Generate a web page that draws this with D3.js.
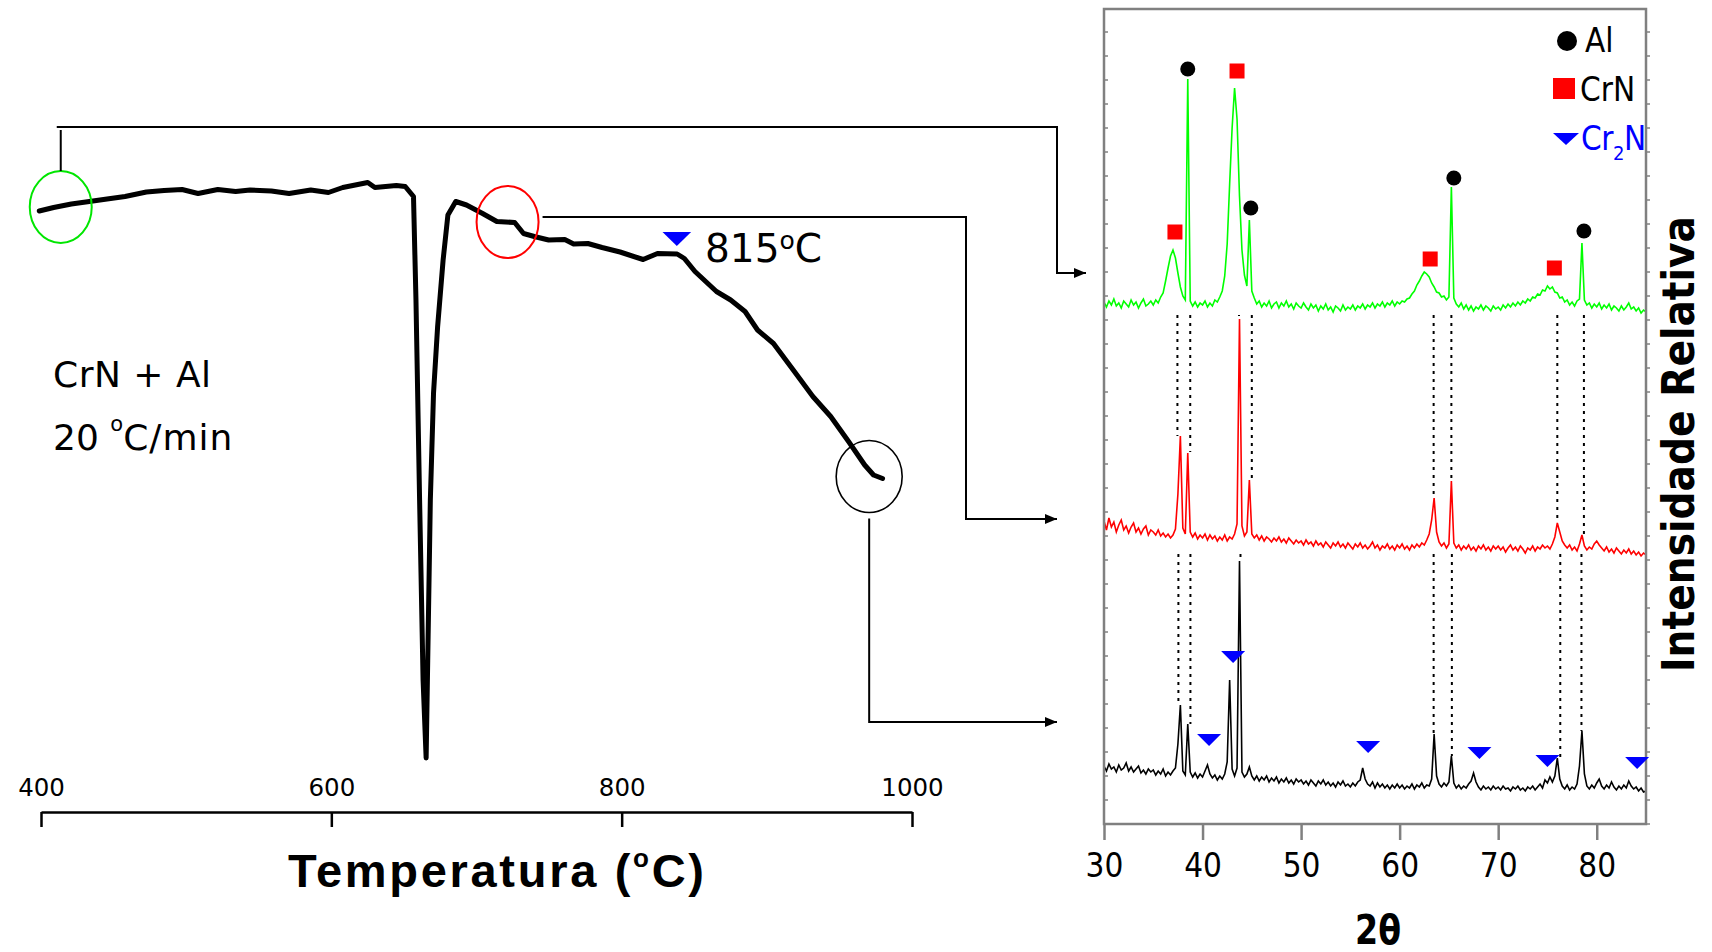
<!DOCTYPE html>
<html>
<head>
<meta charset="utf-8">
<script src="https://cdn.jsdelivr.net/npm/d3@7"></script>
<style>
  body { margin: 0; background: #fff; }
  svg { display: block; }
</style>
</head>
<body>
<div id="chart"></div>
<script>
// ---- DSC curve: temperature (oC) and signal (a.u.)
const dscTemp = [398.8, 408.7, 420.9, 433.3, 445.5, 457.9, 472.6, 484.8, 497.2, 508.2, 521.8, 534.1, 544, 558.7, 570.9,
  585.8, 598, 607.9, 625.1, 630, 644.8, 650.9, 656.6, 658.3, 660.8, 663.2, 665.3, 668.2, 670.4, 673.2, 677, 680.3,
  685.7, 693.1, 704.2, 714, 726.3, 732.4, 739.8, 749.7, 760.8, 766.9, 776.7, 786.5, 798.9, 814.8, 824.7, 838.2,
  843.2, 850.5, 865.3, 875.1, 885, 893.6, 904.6, 918.2, 931.7, 944, 956.3, 967.4, 973.5, 979.7]
const dscSignal = [117.8, 118.5, 119.2, 119.7, 120.2, 120.7, 121.6, 121.9, 122.1, 121.3, 122.1, 121.7, 122, 121.8, 121.3,
  122, 121.5, 122.5, 123.5, 122.5, 122.9, 122.7, 120.7, 100, 60, 24, 8.4, 60, 81.4, 94.6, 108, 117,
  119.7, 119, 117.3, 115.7, 115.5, 113.3, 112.7, 112, 112.1, 111.2, 111.3, 110.5, 109.6, 108.1, 109.3, 109.2,
  108.3, 105.7, 101.7, 100, 97.7, 94, 91.3, 86, 80.7, 76.7, 71.7, 67, 65, 64.3]
const dscTicks = [400, 600, 800, 1000]
const dscEvent = [838, 112.2]          // Cr2N onset marker
// sampled spots on the DSC curve: [temp, signal, colour]
const dscSpots = [[413.6, 118.6, "#00e600"], [721.4, 115.6, "#ff0000"], [970.5, 64.7, "#000000"]]

// ---- XRD patterns, 2theta from 30 to 85 in steps of 0.25 (intensity a.u., stacked)
const thetaStart = 30, thetaStep = 0.25
const xrdGreen = [
  522,517,523,519,525,518,521,516,523,520,517,524,519,522,516,521,525,518,520,523,
  519,524,521,527,531,543,556,568,574,566,551,537,528,524,745,523,518,522,517,521,
  519,523,517,521,518,524,522,527,533,548,580,640,696,736,705,628,574,549,538,604,
  533,526,520,523,517,521,518,523,516,520,522,516,521,518,523,517,520,515,521,518,
  516,521,517,514,520,516,519,513,518,515,520,514,517,512,518,516,513,519,514,517,
  515,519,514,518,516,520,515,519,517,521,516,520,518,522,517,521,519,523,518,522,
  520,523,522,525,526,530,533,539,543,548,552,550,547,541,537,532,531,527,528,524,
  527,637,526,520,517,521,515,519,514,518,513,517,515,519,514,518,516,513,518,515,
  517,514,519,516,520,517,521,518,522,519,523,521,525,523,527,526,530,529,534,533,
  538,535,537,532,531,526,527,522,524,519,522,518,523,525,581,524,519,521,516,520,
  517,521,515,519,516,520,514,518,516,513,518,514,517,521,515,517,513,516,511,514,512]
const xrdRed = [
  303,294,306,297,302,292,299,304,294,298,291,297,301,292,296,290,295,298,289,294,
  292,289,294,288,291,287,290,286,289,295,330,388,296,290,371,292,287,291,285,289,
  286,290,284,289,285,288,283,287,284,289,283,287,285,290,300,505,298,288,292,344,
  290,286,289,284,288,283,287,285,282,286,283,287,282,285,281,286,283,280,284,281,
  283,279,284,280,282,278,283,279,281,277,282,279,276,281,278,282,277,280,276,281,
  278,275,280,277,281,276,279,275,278,282,276,279,274,278,276,280,275,278,274,279,
  276,280,275,278,274,279,276,280,277,281,279,284,290,304,326,292,282,278,281,276,
  280,343,281,276,279,274,278,275,279,274,277,273,278,275,279,274,277,273,278,275,
  278,274,277,272,276,279,274,277,273,278,275,271,276,274,278,273,277,275,279,276,
  278,275,280,287,301,292,283,279,276,279,274,277,273,280,289,278,274,277,275,280,
  283,279,276,273,277,272,275,271,276,273,270,274,271,275,270,273,269,272,268,271,269]
const xrdBlack = [
  58,53,60,55,57,52,59,54,56,61,53,57,52,55,58,51,54,50,55,52,
  54,49,53,50,55,48,52,49,53,56,80,119,53,49,100,52,47,51,46,50,
  47,53,59,50,46,49,44,48,45,50,62,144,55,48,56,263,52,47,50,57,
  48,44,48,43,47,44,48,42,46,43,47,41,45,42,46,41,44,40,45,42,
  44,40,43,39,44,41,38,43,40,44,39,42,38,41,37,42,39,43,38,40,
  37,41,38,42,44,56,45,40,38,42,36,41,37,40,36,39,35,39,36,40,
  36,39,35,38,36,40,35,39,37,41,36,39,38,45,90,48,40,37,41,38,
  42,68,41,36,39,35,38,36,40,43,51,42,37,34,38,35,37,34,38,35,
  37,34,38,35,36,33,37,35,38,34,36,33,37,35,38,34,37,40,36,44,
  41,47,42,48,66,45,38,35,39,34,37,35,40,58,93,50,38,35,39,36,
  41,45,38,35,39,36,42,37,34,38,35,39,36,43,38,35,37,33,36,32,33]
const xrdTicks = [30, 40, 50, 60, 70, 80]
const xrdMinorTicks = d3.range(0, 815, 24)

// phase markers [2theta, intensity]
const alMarks = [[38.5, 755], [44.9, 616], [65.5, 646], [78.7, 593]]
const crnMarks = [[37.2, 592], [43.5, 753], [63.1, 565], [75.7, 556]]
const cr2nMarks = [[40.66, 84], [43.1, 167], [56.8, 77], [68.1, 71], [75.0, 63], [84.1, 61]]

// dotted guide lines [2theta, intensity of the peak they reach]
const upperDrops = [[37.45, 388], [38.75, 372], [43.7, 508], [45.0, 344], [63.45, 327], [65.25, 343], [76.0, 301], [78.7, 289]]
const lowerDrops = [[37.55, 119], [38.77, 100], [43.85, 263], [63.45, 90], [65.3, 68], [76.3, 66], [78.45, 93]]
const upperDropStart = 509, lowerDropStart = 270
// levels (XRD intensity) where the connector arrows end
const arrowLevels = [551, 305, 102]

const W = 1712, H = 952
const narrow = "'Liberation Sans Narrow','DejaVu Sans Condensed','Liberation Sans',sans-serif"

const svg = d3.select("#chart").append("svg")
  .attr("width", W).attr("height", H)
  .style("background", "#fff")

const defs = svg.append("defs")
defs.append("marker")
  .attr("id", "arrow").attr("viewBox", "0 0 12 10")
  .attr("refX", 12).attr("refY", 5)
  .attr("markerWidth", 12).attr("markerHeight", 10)
  .attr("markerUnits", "userSpaceOnUse").attr("orient", "auto")
  .append("path").attr("d", "M0,0L12,5L0,10Z").attr("fill", "#000")

function triDown(w, h) { return `M${-w/2},${-h/2}L${w/2},${-h/2}L0,${h/2}Z` }

// ================= DSC panel =================
const xT = d3.scaleLinear().domain([400, 1000]).range([41, 912])
const yS = d3.scaleLinear().domain([0, 130]).range([800, 150])

const dscAxis = svg.append("g")
  .attr("transform", "translate(0,812)")
  .call(d3.axisBottom(xT).tickValues(dscTicks).tickFormat(d3.format("d")).tickSize(15).tickSizeOuter(0))
dscAxis.select(".domain").attr("stroke", "#000").attr("stroke-width", 2.5)
dscAxis.selectAll(".tick line").attr("stroke", "#000").attr("stroke-width", 2.5)
dscAxis.selectAll(".tick text")
  .attr("y", -16).attr("dy", 0)
  .style("font-family", "'DejaVu Sans',sans-serif").style("font-size", "24.5px").attr("fill", "#000")

const tempLabel = svg.append("text")
  .attr("x", 496).attr("y", 887).attr("text-anchor", "middle")
  .attr("textLength", 416).attr("lengthAdjust", "spacing")
  .style("font-family", "'Liberation Sans Narrow','Liberation Sans',Arial,sans-serif")
  .style("font-weight", "bold").style("font-size", "47px")
tempLabel.append("tspan").text("Temperatura (")
tempLabel.append("tspan").attr("dy", -20).style("font-size", "26px").text("o")
tempLabel.append("tspan").attr("dy", 20).text("C)")

const line = d3.line()
  .x(i => xT(dscTemp[i]))
  .y(i => yS(dscSignal[i]))
svg.append("path")
  .attr("d", line(d3.range(dscTemp.length)))
  .attr("fill", "none").attr("stroke", "#000").attr("stroke-width", 5)
  .attr("stroke-linejoin", "round").attr("stroke-linecap", "round")

svg.selectAll(".spot").data(dscSpots).enter().append("ellipse")
  .attr("class", "spot")
  .attr("cx", d => xT(d[0])).attr("cy", d => yS(d[1]))
  .attr("rx", (d, i) => i == 2 ? 33 : 31).attr("ry", 36)
  .attr("fill", "none").attr("stroke", d => d[2]).attr("stroke-width", (d, i) => i == 2 ? 1.6 : 2)

svg.append("path")
  .attr("d", triDown(28.6, 14))
  .attr("transform", `translate(${xT(dscEvent[0])},${yS(dscEvent[1])})`)
  .attr("fill", "#0000ff")

const evText = svg.append("text")
  .attr("x", 705).attr("y", 262)
  .style("font-family", "'DejaVu Sans',sans-serif").style("font-size", "39px")
evText.append("tspan").text("815")
evText.append("tspan").attr("dy", -13).style("font-size", "25px").text("o")
evText.append("tspan").attr("dy", 13).text("C")

svg.append("text").attr("x", 53).attr("y", 387)
  .style("font-family", "'DejaVu Sans',sans-serif").style("font-size", "36px")
  .style("letter-spacing", "0.5px")
  .text("CrN + Al")
const rate = svg.append("text").attr("x", 53).attr("y", 450)
  .style("font-family", "'DejaVu Sans',sans-serif").style("font-size", "36px")
rate.append("tspan").text("20 ")
rate.append("tspan").attr("dy", -19).style("font-size", "21px").text("o")
rate.append("tspan").attr("dy", 19).style("letter-spacing", "1px").text("C/min")

// ================= XRD panel =================
const xr = d3.scaleLinear().domain([30, 85]).range([1104, 1646])
const yr = d3.scaleLinear().domain([0, 815]).range([824, 9])

// connectors from the sampled DSC spots to the patterns
const conn = svg.append("g").attr("fill", "none").attr("stroke", "#000").attr("stroke-width", 2)
const g0 = [xT(dscSpots[0][0]), yS(dscSpots[0][1])]
const r0 = [xT(dscSpots[1][0]), yS(dscSpots[1][1])]
const b0 = [xT(dscSpots[2][0]), yS(dscSpots[2][1])]
conn.append("path").attr("d", `M${g0[0]},${g0[1] - 36}V${g0[1] - 77}`)
conn.append("path").attr("d", `M${g0[0] - 4},${g0[1] - 80}H${xr(30) - 47}V${yr(arrowLevels[0])}H${xr(30) - 18}`)
  .attr("marker-end", "url(#arrow)")
conn.append("path").attr("d", `M${r0[0] + 35},${r0[1] - 5}H${xr(30) - 138}V${yr(arrowLevels[1])}H${xr(30) - 47}`)
  .attr("marker-end", "url(#arrow)")
conn.append("path").attr("d", `M${b0[0]},${b0[1] + 42}V${yr(arrowLevels[2])}H${xr(30) - 47}`)
  .attr("marker-end", "url(#arrow)")

// dotted guides
const dots = svg.append("g").attr("stroke", "#000").attr("stroke-width", 2).attr("stroke-dasharray", "3,5")
upperDrops.forEach(d => {
  dots.append("line").attr("x1", xr(d[0])).attr("x2", xr(d[0]))
    .attr("y1", yr(upperDropStart)).attr("y2", yr(d[1]))
})
lowerDrops.forEach(d => {
  dots.append("line").attr("x1", xr(d[0])).attr("x2", xr(d[0]))
    .attr("y1", yr(lowerDropStart)).attr("y2", yr(d[1]))
})

const xrdLine = d3.line()
  .x((d, i) => xr(thetaStart + i * thetaStep))
  .y(d => yr(d))
const patterns = [[xrdGreen, "#00ff00"], [xrdRed, "#ff0000"], [xrdBlack, "#000000"]]
patterns.forEach(p => {
  svg.append("path").attr("d", xrdLine(p[0]))
    .attr("fill", "none").attr("stroke", p[1]).attr("stroke-width", 1.6)
})

// frame
svg.append("rect")
  .attr("x", xr(30)).attr("y", yr(815))
  .attr("width", xr(85) - xr(30)).attr("height", yr(0) - yr(815))
  .attr("fill", "none").attr("stroke", "#808080").attr("stroke-width", 2.5)
svg.append("g").selectAll("line").data(xrdMinorTicks).enter().append("line")
  .attr("x1", xr(30)).attr("x2", xr(30) + 4)
  .attr("y1", d => yr(d)).attr("y2", d => yr(d))
  .attr("stroke", "#808080").attr("stroke-width", 1.5)
svg.append("g").selectAll("line").data(xrdMinorTicks).enter().append("line")
  .attr("x1", xr(85)).attr("x2", xr(85) + 4)
  .attr("y1", d => yr(d)).attr("y2", d => yr(d))
  .attr("stroke", "#808080").attr("stroke-width", 1.5)

const xrdAxis = svg.append("g")
  .attr("transform", `translate(0,${yr(0)})`)
  .call(d3.axisBottom(xr).tickValues(xrdTicks).tickSize(16).tickSizeOuter(0))
xrdAxis.select(".domain").remove()
xrdAxis.selectAll(".tick line").attr("stroke", "#808080").attr("stroke-width", 2.5)
xrdAxis.selectAll(".tick text")
  .attr("y", 53).attr("dy", 0).attr("fill", "#000")
  .style("font-family", narrow).style("font-size", "33px")

svg.append("text")
  .attr("x", 1378).attr("y", 944).attr("text-anchor", "middle")
  .attr("textLength", 46).attr("lengthAdjust", "spacingAndGlyphs")
  .style("font-family", "'DejaVu Sans',sans-serif").style("font-weight", "bold").style("font-size", "40px")
  .text("2θ")

svg.append("text")
  .attr("transform", "translate(1694,444) rotate(-90)")
  .attr("text-anchor", "middle")
  .attr("textLength", 456).attr("lengthAdjust", "spacingAndGlyphs")
  .style("font-family", "'DejaVu Sans',sans-serif").style("font-weight", "bold").style("font-size", "44px")
  .text("Intensidade Relativa")

// phase markers
svg.selectAll(".al").data(alMarks).enter().append("circle")
  .attr("class", "al").attr("cx", d => xr(d[0])).attr("cy", d => yr(d[1])).attr("r", 7.5).attr("fill", "#000")
svg.selectAll(".crn").data(crnMarks).enter().append("rect")
  .attr("class", "crn").attr("x", d => xr(d[0]) - 7.5).attr("y", d => yr(d[1]) - 7.5)
  .attr("width", 15).attr("height", 15).attr("fill", "#ff0000")
svg.selectAll(".cr2n").data(cr2nMarks).enter().append("path")
  .attr("class", "cr2n").attr("d", triDown(24, 12))
  .attr("transform", d => `translate(${xr(d[0])},${yr(d[1])})`).attr("fill", "#0000ff")

// legend
const legend = svg.append("g").style("font-family", narrow).style("font-size", "33px")
legend.append("circle").attr("cx", 1567).attr("cy", 41).attr("r", 10).attr("fill", "#000")
legend.append("text").attr("x", 1585).attr("y", 52).text("Al")
legend.append("rect").attr("x", 1553).attr("y", 78).attr("width", 22).attr("height", 21).attr("fill", "#ff0000")
legend.append("text").attr("x", 1580).attr("y", 101).text("CrN")
legend.append("path").attr("d", triDown(26, 12)).attr("transform", "translate(1566,139)").attr("fill", "#0000ff")
const cr2n = legend.append("text").attr("x", 1581).attr("y", 150).attr("fill", "#0000ff")
  .style("letter-spacing", "-0.5px")
cr2n.append("tspan").text("Cr")
cr2n.append("tspan").attr("dy", 10).style("font-size", "20px").text("2")
cr2n.append("tspan").attr("dy", -10).text("N")
</script>
</body>
</html>
